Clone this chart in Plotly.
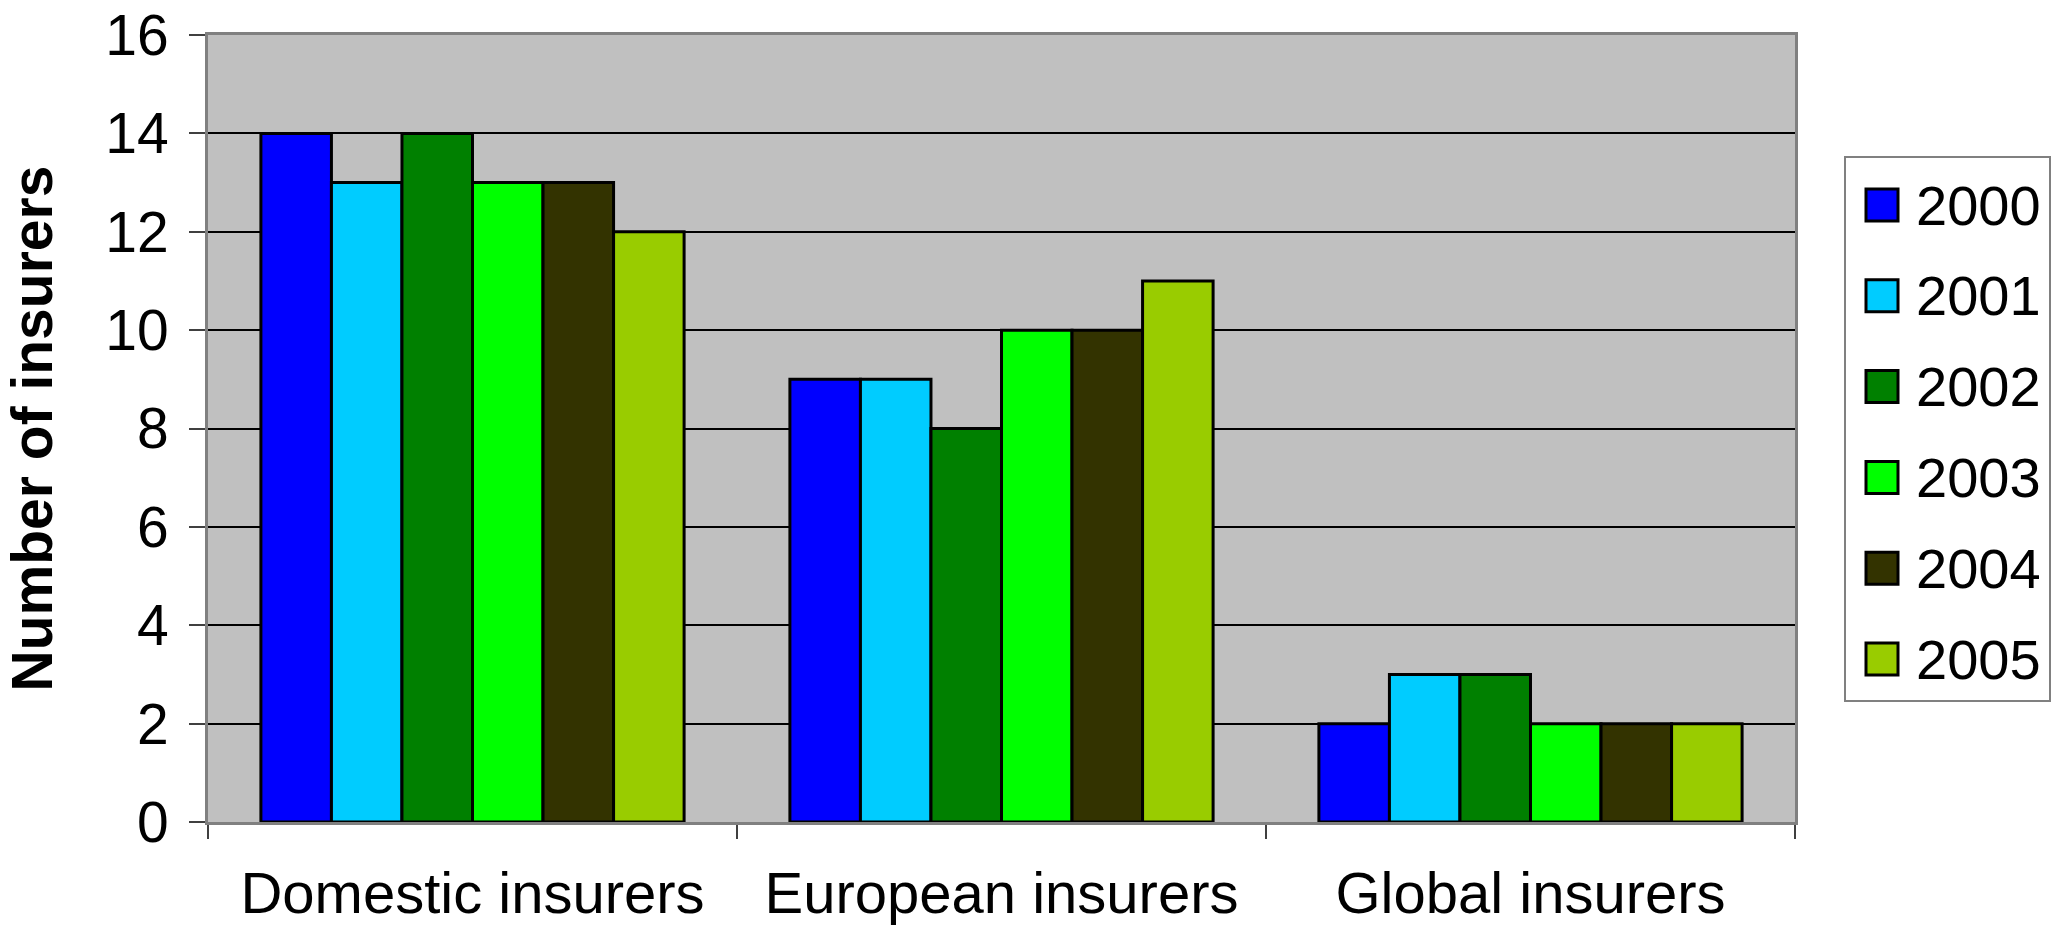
import plotly.graph_objects as go

categories = ["Domestic insurers", "European insurers", "Global insurers"]
years = ["2000", "2001", "2002", "2003", "2004", "2005"]
values_2000 = [14, 9, 2]
values_2001 = [13, 9, 3]
values_2002 = [14, 8, 3]
values_2003 = [13, 10, 2]
values_2004 = [13, 10, 2]
values_2005 = [12, 11, 2]
series = [values_2000, values_2001, values_2002, values_2003, values_2004, values_2005]
colors = ["#0000FF", "#00CCFF", "#008000", "#00FF00", "#333300", "#99CC00"]
y_ticks = [0, 2, 4, 6, 8, 10, 12, 14, 16]

W, H = 2064, 930
L, R, T, B = 208, 1795, 35, 822
FONT = "Liberation Sans, Arial, sans-serif"

fig = go.Figure()
for yr, vals, col in zip(years, series, colors):
    fig.add_trace(go.Bar(
        x=categories, y=vals, name=yr,
        marker=dict(color=col, line=dict(color="black", width=3)),
        showlegend=False,
    ))

def px2x(px):
    return (px - L) / (R - L)

def px2y(py):
    return (B - py) / (B - T)

shapes = []
annotations = []
# legend box
shapes.append(dict(type="rect", xref="paper", yref="paper",
                   x0=px2x(1845), x1=px2x(2050), y0=px2y(701), y1=px2y(157),
                   line=dict(color="#808080", width=2), fillcolor="white", layer="above"))
for i, (yr, col) in enumerate(zip(years, colors)):
    cy = 205 + i * 90.8
    shapes.append(dict(type="rect", xref="paper", yref="paper",
                       x0=px2x(1866), x1=px2x(1898), y0=px2y(cy + 16), y1=px2y(cy - 16),
                       line=dict(color="black", width=3), fillcolor=col, layer="above"))
    annotations.append(dict(xref="paper", yref="paper", x=px2x(1914), y=px2y(cy),
                            text=yr, showarrow=False, xanchor="left", yanchor="middle",
                            font=dict(family=FONT, size=56, color="black")))

fig.update_layout(
    width=W, height=H,
    margin=dict(l=L, r=W - R, t=T, b=H - B, pad=0, autoexpand=False),
    paper_bgcolor="white", plot_bgcolor="#C0C0C0",
    barmode="group", bargap=0.2, bargroupgap=0,
    font=dict(family=FONT, size=56, color="black"),
    shapes=shapes, annotations=annotations,
    showlegend=False,
)
fig.update_yaxes(
    automargin=False,
    range=[0, 16], tickvals=y_ticks, ticktext=[str(v) for v in y_ticks],
    showgrid=True, gridcolor="black", gridwidth=1.5, zeroline=False,
    ticks="outside", ticklen=16, tickwidth=1.5, tickcolor="#404040",
    showline=True, linecolor="#808080", linewidth=3, mirror=True,
    tickfont=dict(family=FONT, size=57, color="black"), ticklabelstandoff=9,
    title=dict(text="<b>Number of insurers</b>", standoff=52,
               font=dict(family=FONT, size=57, color="black")),
)
fig.update_xaxes(
    automargin=False,
    showline=True, linecolor="#808080", linewidth=3, mirror=True,
    ticks="outside", tickson="boundaries", ticklen=14, tickwidth=1.5, tickcolor="#404040",
    tickfont=dict(family=FONT, size=58, color="black"), ticklabelstandoff=18,
)

fig.write_html("out.html")
